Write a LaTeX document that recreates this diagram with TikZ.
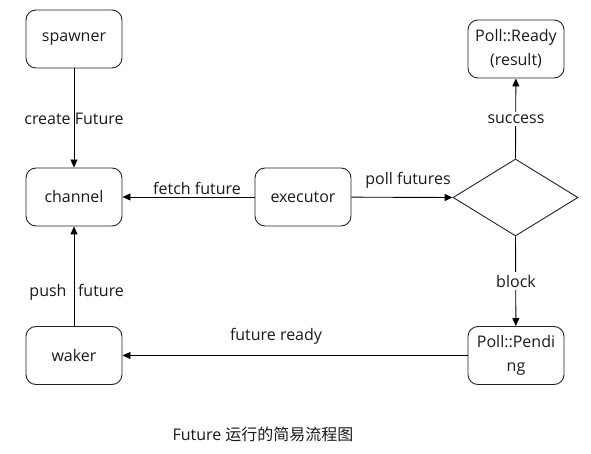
\documentclass[tikz,border=0pt]{standalone}
\usepackage{fontspec}
\setmainfont{Open Sans}
\newfontfamily\cjk{Noto Sans CJK SC}
\usetikzlibrary{shapes.geometric,arrows.meta}
\definecolor{bord}{HTML}{1E2040}
\definecolor{txt}{HTML}{1A1A1A}
\tikzset{
  box/.style={draw=bord, line width=0.9pt, rounded corners=10pt, minimum width=96pt, minimum height=58pt, text=txt, align=center, inner sep=0pt, font=\fontsize{16}{24}\selectfont},
  conn/.style={draw=black, line width=0.9pt, -{Triangle[length=8pt,width=7pt]}},
  lab/.style={text=txt, font=\fontsize{16}{18}\selectfont, inner sep=1pt},
}
\begin{document}
\begin{tikzpicture}[x=1pt,y=-1pt]
\useasboundingbox (0,0) rectangle (591,454);
\node[box] (spawner) at (74,39) {spawner};
\node[box] (channel) at (74,197) {channel};
\node[box] (executor) at (303,197) {executor};
\node[box] (waker) at (74,355.5) {waker};
\node[box] (ready) at (516,49) {Poll::Ready\\(result)};
\node[box] (pending) at (516,355.5) {Poll::Pendi\\ng};
\node[draw=bord, line width=0.9pt, shape=diamond, minimum width=125pt, minimum height=77pt, inner sep=0pt, aspect=1.62] (dec) at (515.5,197.5) {};
\draw[conn] (spawner) -- (channel);
\node[lab] (l1) at (74,119) {create Future};
\draw[conn] (executor) -- (channel);
\node[lab] (l2) at (197,188) {fetch future};
\draw[conn] (executor) -- (dec.west);
\node[lab] (l3) at (408,180) {poll futures};
\draw[conn] (dec.north) -- (ready);
\node[lab, fill=white, inner sep=3pt] (l4) at (516,119) {success};
\draw[conn] (dec.south) -- (pending);
\node[lab, fill=white, inner sep=3pt] (l5) at (516,281) {block};
\draw[conn] (pending) -- (waker);
\node[lab] (l6) at (276,336) {future ready};
\draw[conn] (waker) -- (channel);
\node[lab, anchor=base] (l7a) at (48,296) {push};
\node[lab, anchor=base] (l7b) at (101,296) {future};
\node[text=txt, font=\fontsize{16}{18}\selectfont, inner sep=0pt] (title) at (263,434) {Future {\cjk 运行的简易流程图}};
\end{tikzpicture}
\end{document}
